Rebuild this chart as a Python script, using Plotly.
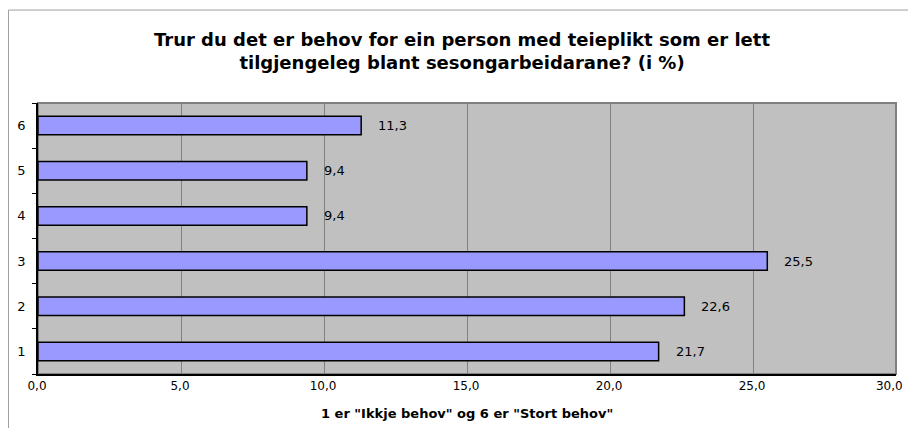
import plotly.graph_objects as go

categories = ["1", "2", "3", "4", "5", "6"]
values = [21.7, 22.6, 25.5, 9.4, 9.4, 11.3]
x_ticks = [0, 5, 10, 15, 20, 25, 30]
x_tick_labels = ["0,0", "5,0", "10,0", "15,0", "20,0", "25,0", "30,0"]

TITLE = "Trur du det er behov for ein person med teieplikt som er lett<br>tilgjengeleg blant sesongarbeidarane? (i %)"
X_TITLE = "1 er \"Ikkje behov\" og 6 er \"Stort behov\""
FONT = "DejaVu Sans, Verdana, sans-serif"

# last label padded so it is not clipped at the right window edge
tick_text = x_tick_labels[:-1] + [x_tick_labels[-1] + "\u00a0\u00a0\u00a0"]

fig = go.Figure()
fig.add_trace(
    go.Bar(
        x=values,
        y=categories,
        orientation="h",
        marker={"color": "#9999FF", "line": {"color": "#000000", "width": 1.5}},
        hoverinfo="x+y",
    )
)

# value labels, placed by category index so the category axis maps them
for i, val in enumerate(values):
    fig.add_annotation(
        x=val,
        y=i,
        text=f"{val:.1f}".replace(".", ","),
        showarrow=False,
        xanchor="left",
        xshift=15,
        font={"size": 13, "color": "#000000", "family": FONT},
    )

fig.add_annotation(
    text=f"<b>{X_TITLE}</b>",
    xref="paper",
    yref="paper",
    x=0.5,
    y=-0.145,
    yanchor="middle",
    showarrow=False,
    font={"size": 13, "color": "#000000", "family": FONT},
)

# outer chart border
fig.add_shape(
    type="rect",
    xref="paper",
    yref="paper",
    x0=-0.0344,
    x1=1.1,
    y0=-0.3,
    y1=1.343,
    line={"color": "#A0A0A0", "width": 1},
    layer="below",
)

fig.update_layout(
    width=908,
    height=420,
    separators=", ",
    paper_bgcolor="white",
    plot_bgcolor="#C0C0C0",
    margin={"l": 30, "r": 20, "t": 95, "b": 54, "autoexpand": False},
    showlegend=False,
    bargap=0.59,
    font={"family": FONT, "size": 13, "color": "#000000"},
    title={
        "text": f"<b>{TITLE}</b>",
        "x": 0.5,
        "xref": "container",
        "xanchor": "center",
        "y": 1 - 38 / 420,
        "yanchor": "middle",
        "font": {"size": 18, "family": FONT, "color": "#000000"},
    },
    xaxis={
        "range": [0, 30],
        "tickvals": x_ticks,
        "ticktext": tick_text,
        "showgrid": True,
        "gridcolor": "#808080",
        "gridwidth": 1,
        "zeroline": False,
        "showline": True,
        "linecolor": "#000000",
        "linewidth": 1.5,
        "ticks": "",
        "tickfont": {"size": 12},
        "ticklabelshift": -1,
        "ticklabeloverflow": "allow",
        "automargin": False,
    },
    yaxis={
        "categoryorder": "array",
        "categoryarray": categories,
        "showgrid": False,
        "zeroline": False,
        "showline": True,
        "linecolor": "#000000",
        "linewidth": 1.5,
        "ticks": "outside",
        "tickson": "boundaries",
        "ticklen": 4,
        "tickcolor": "#000000",
        "tickfont": {"size": 13},
        "ticklabelstandoff": 8,
        "automargin": False,
    },
)

# gray plot-area frame on top and right
fig.add_shape(
    type="rect",
    xref="paper",
    yref="paper",
    x0=0,
    x1=1,
    y0=0,
    y1=1,
    line={"color": "#808080", "width": 2},
    layer="below",
)

fig.write_html("out.html")
